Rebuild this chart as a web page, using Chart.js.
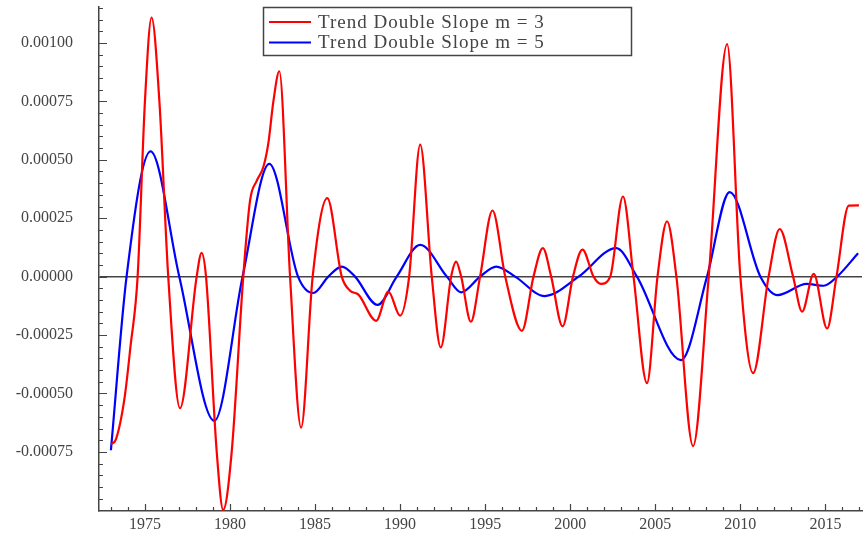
<!DOCTYPE html>
<html>
<head>
<meta charset="utf-8">
<script src="https://cdn.jsdelivr.net/npm/chart.js@4.4.0/dist/chart.umd.min.js"></script>
<style>
  body { margin: 0; background: #fff; }
  canvas { display: block; }
</style>
</head>
<body>
<canvas id="trend" width="864" height="538"></canvas>
<script>
// values
const redLabel = 'Trend Double Slope m = 3';
const redYears = [1973.0, 1973.3, 1973.8, 1974.15, 1974.57, 1975.0, 1975.39, 1975.85, 1976.37, 1977.06, 1978.04, 1978.33, 1978.59,
  1979.22, 1979.6, 1980.1, 1980.78, 1981.18, 1981.57, 1981.96, 1982.25, 1982.55, 1982.9, 1983.53, 1984.18, 1984.86,
  1985.72, 1986.57, 1987.06, 1987.55, 1988.59, 1989.31, 1990.0, 1990.53, 1991.18, 1991.86,
  1992.39, 1993.0, 1993.29, 1993.59, 1994.16, 1994.7, 1995.43, 1996.18, 1997.16, 1997.84,
  1998.39, 1998.88, 1999.55, 2000.16, 2000.72, 2001.37, 2001.8, 2002.35, 2003.1, 2003.72,
  2004.51, 2005.13, 2005.69, 2006.24, 2007.22, 2008.14, 2009.22, 2010.0, 2010.75, 2011.66,
  2012.31, 2013.1, 2013.63, 2014.31, 2015.1, 2015.65, 2016.37, 2016.97];
const redValues = [-0.000717, -0.000695, -0.00052, -0.0003, 0, 0.00075, 0.001109, 0.00075, 0, -0.000563, 0, 0.000102, 0,
  -0.00075, -0.000998, -0.00075, 0, 0.000326, 0.000410, 0.000469, 0.000569, 0.00075, 0.000879, 0, -0.000646, 0,
  0.000336, 0, -0.00006, -0.000077, -0.000189, -0.000064, -0.000167, 0, 0.000565, 0,
  -0.000303, 0, 0.000064, 0, -0.000193, 0, 0.000283, 0, -0.000232, 0,
  0.000122, 0, -0.000213, 0, 0.000116, 0, -0.000031, 0, 0.000343, 0,
  -0.000456, 0, 0.000237, 0, -0.000725, 0, 0.000995, 0, -0.000413, 0,
  0.000204, 0, -0.00015, 0.000012, -0.000222, 0, 0.000304, 0.000305];

const blueLabel = 'Trend Double Slope m = 5';
const blueYears = [1973.0, 1973.92, 1975.33, 1977.02, 1979.08, 1980.74, 1982.31, 1984.0, 1984.9, 1985.78,
  1986.57, 1987.35, 1988.67, 1989.8, 1991.18, 1992.75, 1993.59, 1994.7, 1995.65, 1996.76,
  1998.5, 2000.49, 2002.7, 2003.92, 2006.51, 2008.04, 2009.37, 2011.18, 2012.19, 2013.9,
  2014.9, 2015.69, 2016.92];
const blueValues = [-0.000743, 0, 0.000536, 0, -0.000617, 0, 0.000483, 0, -0.00007, 0,
  0.000043, 0, -0.000121, 0, 0.000136, 0, -0.000067, 0, 0.000043, 0,
  -0.000083, 0, 0.000122, 0, -0.000357, 0, 0.000362, 0, -0.000079, -0.000031,
  -0.000039, 0, 0.0001];

const xTickLabels = [1975, 1980, 1985, 1990, 1995, 2000, 2005, 2010, 2015];
const yTickLabels = [-0.00075, -0.0005, -0.00025, 0, 0.00025, 0.0005, 0.00075, 0.001];

const axisColor = '#444';
const serif = '"Liberation Serif", "DejaVu Serif", serif';

const toPoints = (xs, ys) => xs.map((x, i) => ({ x: x, y: ys[i] }));

// inward minor/major ticks and the boxed legend inside the plot
const framePlugin = {
  id: 'frame',
  afterDraw(chart) {
    const { ctx, chartArea, scales } = chart;
    const x = scales.x, y = scales.y;
    ctx.save();
    ctx.strokeStyle = axisColor;
    ctx.lineWidth = 1.2;
    ctx.beginPath();
    for (let yr = Math.ceil(x.min); yr <= x.max; yr++) {
      const px = Math.round(x.getPixelForValue(yr)) + 0.5;
      const len = yr % 5 === 0 ? 7 : 4;
      ctx.moveTo(px, chartArea.bottom);
      ctx.lineTo(px, chartArea.bottom - len);
    }
    const step = 0.00005;
    for (let k = Math.ceil(y.min / step - 1e-6); k * step <= y.max; k++) {
      const py = Math.round(y.getPixelForValue(k * step)) + 0.5;
      const len = k % 5 === 0 ? 8 : 4;
      ctx.moveTo(chartArea.left, py);
      ctx.lineTo(chartArea.left + len, py);
    }
    ctx.stroke();

    // legend
    const bx = 263, by = 7, bw = 368, bh = 48;
    ctx.fillStyle = '#fff';
    ctx.fillRect(bx, by, bw, bh);
    ctx.lineWidth = 1.5;
    ctx.strokeStyle = axisColor;
    ctx.strokeRect(bx + 0.5, by + 0.5, bw, bh);
    ctx.font = '19px ' + serif;
    ctx.letterSpacing = '1px';
    ctx.textBaseline = 'middle';
    chart.data.datasets.forEach((ds, i) => {
      const ly = by + 15 + i * 20.5;
      ctx.strokeStyle = ds.borderColor;
      ctx.lineWidth = 2.2;
      ctx.beginPath();
      ctx.moveTo(bx + 6, ly);
      ctx.lineTo(bx + 48, ly);
      ctx.stroke();
      ctx.fillStyle = '#444';
      ctx.fillText(ds.label, bx + 55, ly + 1);
    });
    ctx.restore();
  }
};

new Chart(document.getElementById('trend'), {
  type: 'line',
  data: {
    datasets: [
      {
        label: redLabel,
        data: toPoints(redYears, redValues),
        borderColor: '#ff0000',
        borderWidth: 2.2,
        pointRadius: 0,
        cubicInterpolationMode: 'monotone',
        fill: false
      },
      {
        label: blueLabel,
        data: toPoints(blueYears, blueValues),
        borderColor: '#0000ff',
        borderWidth: 2.2,
        pointRadius: 0,
        cubicInterpolationMode: 'monotone',
        fill: false
      }
    ]
  },
  options: {
    responsive: false,
    animation: false,
    devicePixelRatio: 1,
    layout: { padding: { top: 7, right: 2, left: 0, bottom: 0 } },
    plugins: {
      legend: { display: false },
      tooltip: { enabled: false }
    },
    scales: {
      x: {
        type: 'linear',
        min: 1972.3,
        max: 2017.15,
        afterBuildTicks: (scale) => { scale.ticks = xTickLabels.map(v => ({ value: v })); },
        afterFit: (scale) => {
          scale.height = 27;
          scale.paddingLeft = 0; scale.paddingRight = 0;
          scale.paddingTop = 0; scale.paddingBottom = 0;
        },
        grid: { display: false, drawTicks: false },
        border: { display: true, color: axisColor, width: 1.5 },
        ticks: {
          padding: 4,
          maxRotation: 0,
          autoSkip: false,
          color: '#444',
          font: { family: serif, size: 16 },
          callback: (v) => String(v)
        }
      },
      y: {
        type: 'linear',
        min: -0.001003,
        max: 0.001154,
        afterBuildTicks: (scale) => { scale.ticks = yTickLabels.map(v => ({ value: v })); },
        afterFit: (scale) => {
          scale.width = 99;
          scale.paddingLeft = 0; scale.paddingRight = 0;
          scale.paddingTop = 0; scale.paddingBottom = 0;
        },
        grid: {
          drawTicks: false,
          lineWidth: 1.5,
          color: (c) => (c.tick && c.tick.value === 0 ? axisColor : 'rgba(0,0,0,0)')
        },
        border: { display: true, color: axisColor, width: 1.5 },
        ticks: {
          padding: 26,
          autoSkip: false,
          color: '#444',
          font: { family: serif, size: 16 },
          callback: (v) => v.toFixed(5)
        }
      }
    }
  },
  plugins: [framePlugin]
});
</script>
</body>
</html>
